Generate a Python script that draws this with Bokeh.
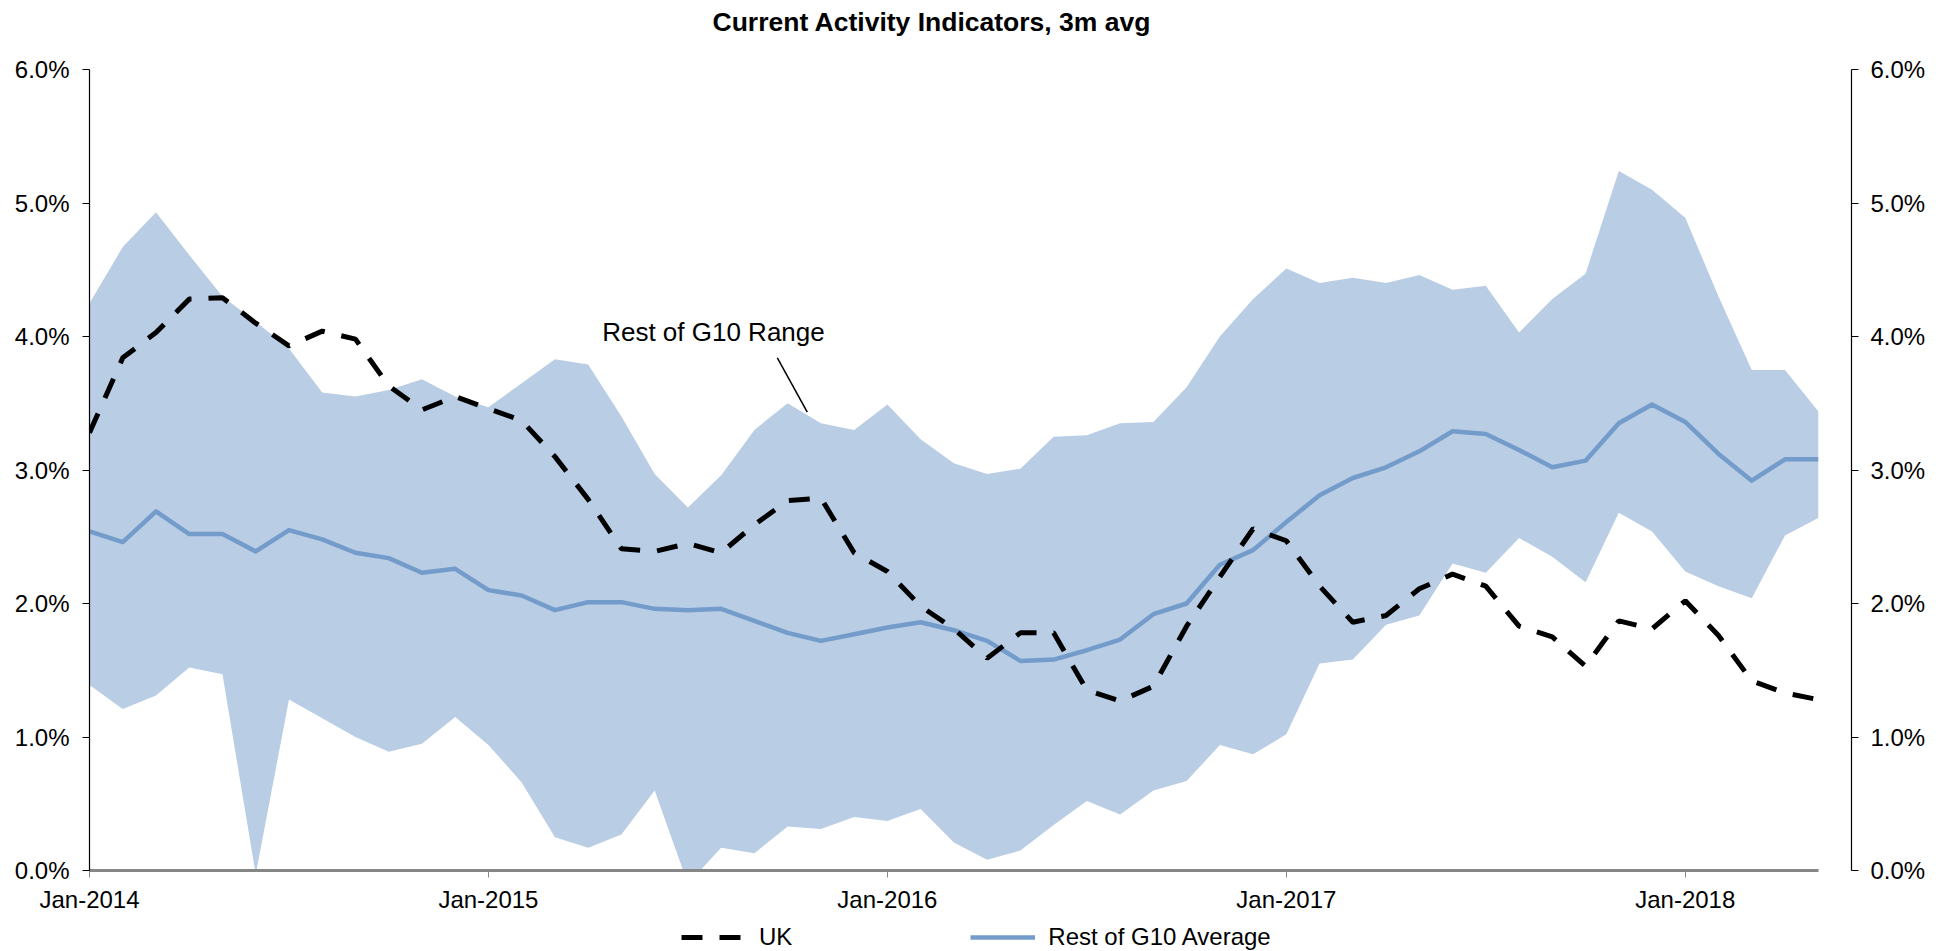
from bokeh.plotting import figure
from bokeh.layouts import column
from bokeh.models import (Range1d, LinearAxis, FixedTicker, PrintfTickFormatter, Label,
                          Legend, LegendItem, ColumnDataSource)
from bokeh.embed import file_html
from bokeh.resources import INLINE

# ---------------- data (values in %) ----------------
months = [f"{y}-{m:02d}" for y in range(2014, 2019) for m in range(1, 13)][:53]

range_high = [4.25, 4.67, 4.93, 4.61, 4.30, 4.11, 3.91, 3.58, 3.55, 3.60, 3.68, 3.55,
              3.47, 3.65, 3.83, 3.79, 3.40, 2.97, 2.72, 2.96, 3.30, 3.50, 3.35, 3.30,
              3.49, 3.23, 3.05, 2.97, 3.01, 3.25, 3.26, 3.35, 3.36, 3.62, 4.00, 4.28,
              4.51, 4.40, 4.44, 4.40, 4.46, 4.35, 4.38, 4.03, 4.28, 4.47, 5.24, 5.10,
              4.89, 4.30, 3.75, 3.75, 3.44]
range_low = [1.39, 1.21, 1.31, 1.52, 1.47, -0.03, 1.28, 1.14, 1.00, 0.89, 0.95, 1.15,
             0.94, 0.66, 0.25, 0.17, 0.27, 0.60, -0.10, 0.17, 0.13, 0.33, 0.31, 0.40,
             0.37, 0.46, 0.21, 0.08, 0.15, 0.34, 0.52, 0.42, 0.60, 0.67, 0.94, 0.87,
             1.02, 1.55, 1.58, 1.84, 1.91, 2.30, 2.23, 2.49, 2.35, 2.16, 2.68, 2.54,
             2.24, 2.13, 2.04, 2.51, 2.64]
g10_avg = [2.54, 2.46, 2.69, 2.52, 2.52, 2.39, 2.55, 2.48, 2.38, 2.34, 2.23, 2.26,
           2.10, 2.06, 1.95, 2.01, 2.01, 1.96, 1.95, 1.96, 1.87, 1.78, 1.72, 1.77,
           1.82, 1.86, 1.80, 1.72, 1.57, 1.58, 1.65, 1.73, 1.92, 2.00, 2.29, 2.40,
           2.61, 2.81, 2.94, 3.02, 3.14, 3.29, 3.27, 3.15, 3.02, 3.07, 3.35, 3.49,
           3.36, 3.12, 2.92, 3.08, 3.08]
uk = [3.28, 3.84, 4.03, 4.28, 4.29, 4.10, 3.93, 4.04, 3.98, 3.63, 3.45, 3.55,
      3.46, 3.37, 3.10, 2.78, 2.41, 2.39, 2.45, 2.38, 2.59, 2.77, 2.79, 2.38,
      2.24, 1.98, 1.81, 1.59, 1.78, 1.78, 1.35, 1.27, 1.38, 1.83, 2.20, 2.56,
      2.47, 2.13, 1.86, 1.91, 2.11, 2.22, 2.13, 1.83, 1.75, 1.53, 1.87, 1.81,
      2.02, 1.76, 1.42, 1.33, 1.28]

x_tick_pos = [0, 12, 24, 36, 48]
x_tick_labels = ["Jan-2014", "Jan-2015", "Jan-2016", "Jan-2017", "Jan-2018"]
y_ticks = [0, 1, 2, 3, 4, 5, 6]

title_text = "Current Activity Indicators, 3m avg"
range_label = "Rest of G10 Range"
series_names = ["UK", "Rest of G10 Average"]

# ---------------- styles ----------------
FONT = "Liberation Sans"
BAND = "#B9CDE5"
AVG = "#739CCB"
GREY = "#868686"
W = 1948
BL, BR = 89, 97                     # left / right borders around the plotting frame
FRAME_W = W - BL - BR
TITLE_H, MAIN_H, LEG_H = 48, 867, 36

UK_STYLE = dict(line_color="black", line_width=5, line_dash="21 17")
AVG_STYLE = dict(line_color=AVG, line_width=4.5, line_join="round")


def strip_fig(h, **kw):
    f = figure(width=W, height=h, x_range=Range1d(0, FRAME_W), y_range=Range1d(0, h),
               output_backend="svg", toolbar_location=None,
               x_axis_location=None, y_axis_location=None,
               min_border_left=BL, min_border_right=BR, min_border_top=0, min_border_bottom=0,
               **kw)
    f.outline_line_color = None
    f.xgrid.visible = False
    f.ygrid.visible = False
    return f


# ---------------- title strip ----------------
t_fig = strip_fig(TITLE_H, title=title_text)
t_fig.title.align = "left"
t_fig.title.offset = 623
t_fig.title.vertical_align = "middle"
t_fig.title.standoff = 11
t_fig.title.text_font = FONT
t_fig.title.text_font_size = "26.5px"
t_fig.title.text_font_style = "bold"
t_fig.title.text_color = "black"

# ---------------- main chart ----------------
src = ColumnDataSource(dict(x=list(range(len(months))), hi=range_high, lo=range_low,
                            avg=g10_avg, uk=uk))

p = figure(width=W, height=MAIN_H, x_range=Range1d(0, 53), y_range=Range1d(0, 6),
           output_backend="svg", toolbar_location=None, title=None,
           min_border_left=BL, min_border_right=BR, min_border_top=21, min_border_bottom=43)
p.outline_line_color = None
p.xgrid.visible = False
p.ygrid.visible = False
p.background_fill_color = "white"

p.varea(x="x", y1="lo", y2="hi", source=src, fill_color=BAND)
p.line("x", "avg", source=src, **AVG_STYLE)
p.line("x", "uk", source=src, **UK_STYLE)


def style_y(ax):
    ax.ticker = FixedTicker(ticks=y_ticks)
    ax.formatter = PrintfTickFormatter(format="%.1f%%")
    ax.axis_line_color = "black"
    ax.axis_line_width = 1.2
    ax.major_tick_line_color = "black"
    ax.major_tick_out = 7
    ax.major_tick_in = 0
    ax.minor_tick_out = 0
    ax.minor_tick_in = 0
    ax.major_label_text_font = FONT
    ax.major_label_text_font_size = "24px"
    ax.major_label_text_color = "black"


style_y(p.yaxis[0])
p.yaxis[0].major_label_standoff = 13
right = LinearAxis()
style_y(right)
right.major_label_standoff = 12
p.add_layout(right, "right")

xa = p.xaxis[0]
xa.ticker = FixedTicker(ticks=x_tick_pos)
xa.major_label_overrides = {k: v for k, v in zip(x_tick_pos, x_tick_labels)}
xa.bounds = (0, 52)
xa.axis_line_color = GREY
xa.axis_line_width = 3
xa.major_tick_line_color = GREY
xa.major_tick_out = 7
xa.major_tick_in = 0
xa.minor_tick_out = 0
xa.minor_tick_in = 0
xa.major_label_standoff = 8
xa.major_label_text_font = FONT
xa.major_label_text_font_size = "24px"
xa.major_label_text_color = "black"

# range annotation
p.add_layout(Label(x=15.42, y=4.035, text=range_label, text_align="left",
                   text_baseline="alphabetic", text_font=FONT, text_font_size="26px",
                   text_color="black"))
leader = dict(x0=[20.69], y0=[3.84], x1=[21.59], y1=[3.434])
p.segment(x0="x0", y0="y0", x1="x1", y1="y1", source=ColumnDataSource(leader),
          line_color="black", line_width=1.5)

# ---------------- legend strip ----------------
l_fig = strip_fig(LEG_H, title=None)
nan = float("nan")
uk_key = l_fig.line(x=[nan], y=[nan], **UK_STYLE)
avg_key = l_fig.line(x=[nan], y=[nan], **AVG_STYLE)
legend = Legend(items=[LegendItem(label=series_names[0], renderers=[uk_key]),
                       LegendItem(label=series_names[1], renderers=[avg_key])],
                orientation="horizontal", location=(681 - BL, 0),
                glyph_width=65, glyph_height=26, label_height=26, label_standoff=13,
                spacing=178, padding=0, margin=0,
                border_line_color=None, background_fill_alpha=0,
                label_text_font=FONT, label_text_font_size="24px", label_text_color="black")
l_fig.add_layout(legend, "center")

layout = column(t_fig, p, l_fig, spacing=0)
open("out.html", "w").write(file_html(layout, INLINE))
